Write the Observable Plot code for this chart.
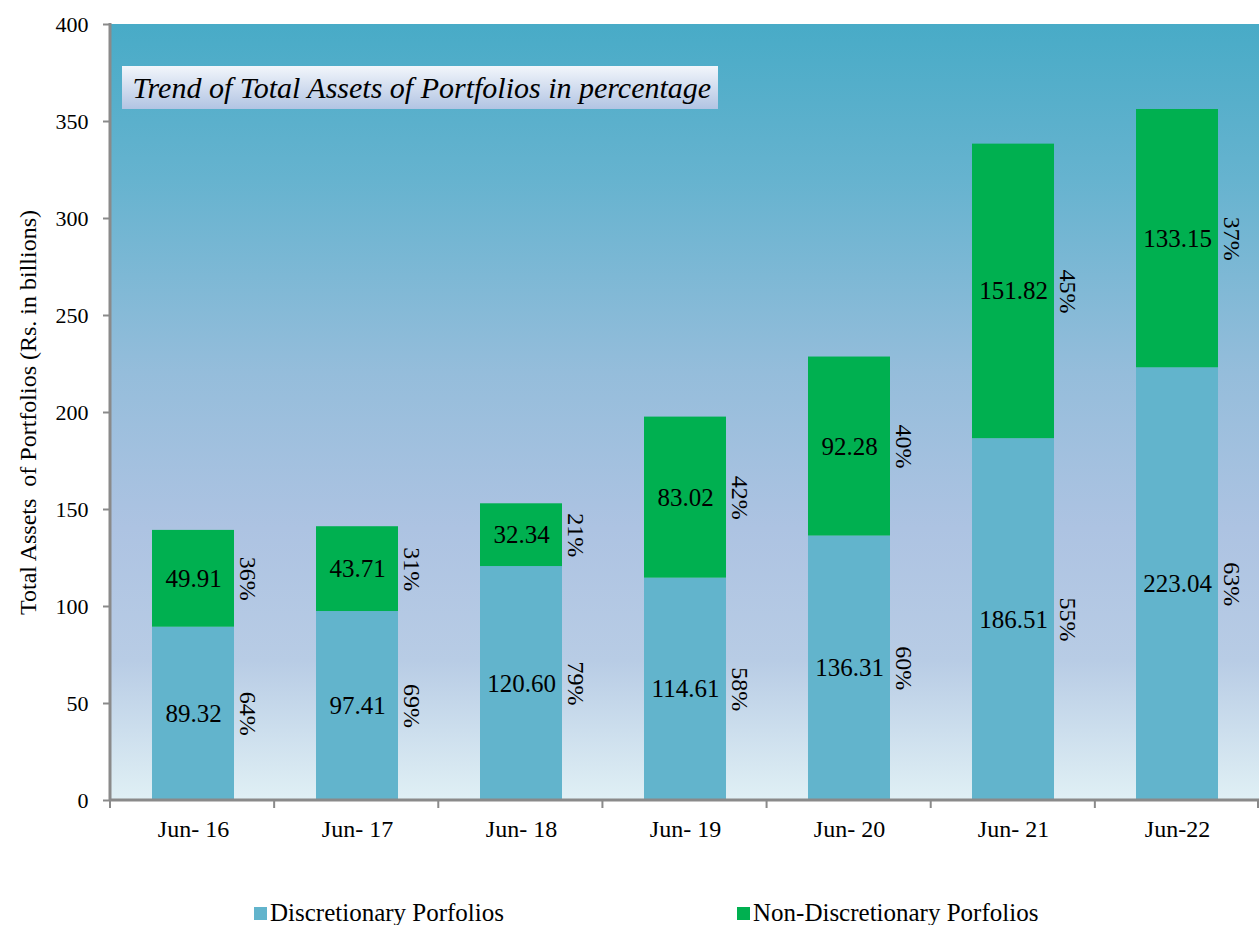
<!DOCTYPE html>
<html><head><meta charset="utf-8">
<script src="https://cdn.jsdelivr.net/npm/d3@7"></script>
<script src="https://cdn.jsdelivr.net/npm/@observablehq/plot@0.6"></script>
<style>
body{margin:0;background:#fff;font-family:'Liberation Serif','Times New Roman',serif;}
#wrap{position:relative;width:1259px;height:925px;overflow:hidden;}
svg text{font-family:'Liberation Serif','Times New Roman',serif;}
.leg{position:absolute;top:899px;font-size:25px;line-height:28px;color:#000;white-space:nowrap;display:flex;align-items:center;font-family:'Liberation Serif','Times New Roman',serif;}
.sw{display:inline-block;width:13px;height:13px;margin-right:3px;}
</style></head><body><div id="wrap"></div>
<script>
const categories = ["Jun- 16","Jun- 17","Jun- 18","Jun- 19","Jun- 20","Jun- 21","Jun-22"];
const discretionary = [89.32, 97.41, 120.60, 114.61, 136.31, 186.51, 223.04];
const nonDiscretionary = [49.91, 43.71, 32.34, 83.02, 92.28, 151.82, 133.15];
const discretionaryPct = ["64%","69%","79%","58%","60%","55%","63%"];
const nonDiscretionaryPct = ["36%","31%","21%","42%","40%","45%","37%"];
const seriesNames = ["Discretionary Porfolios","Non-Discretionary Porfolios"];
const seriesColors = ["#62b4cc","#00b050"];
const yTicks = [0,50,100,150,200,250,300,350,400];
const titleText = "Trend of Total Assets of Portfolios in percentage";
const yLabel = "Total Assets  of Portfolios (Rs. in billions)";

const rows = [];
categories.forEach((c,i)=>{
  rows.push({cat:c, series:seriesNames[0], value:discretionary[i], pct:discretionaryPct[i]});
  rows.push({cat:c, series:seriesNames[1], value:nonDiscretionary[i], pct:nonDiscretionaryPct[i]});
});

const FONT = "'Liberation Serif', 'Times New Roman', serif";
const W = 1259, H = 870;

function background(index, scales, values, dim) {
  const g = d3.create("svg:g");
  const defs = g.append("defs");
  const lg = defs.append("linearGradient").attr("id","bgGrad").attr("x1",0).attr("y1",0).attr("x2",0).attr("y2",1);
  [[0,"#48abc7"],[0.2,"#66b3cf"],[0.45,"#95bddb"],[0.65,"#adc3e2"],[0.82,"#b8cce5"],[1,"#e0f0f5"]]
    .forEach(([o,c])=>lg.append("stop").attr("offset",o).attr("stop-color",c));
  const tg = defs.append("linearGradient").attr("id","titleGrad").attr("x1",0).attr("y1",0).attr("x2",0).attr("y2",1);
  [[0,"#f2f6fb"],[1,"#b2c4e3"]].forEach(([o,c])=>tg.append("stop").attr("offset",o).attr("stop-color",c));
  const x0 = dim.marginLeft, y0 = dim.marginTop;
  const w = dim.width - dim.marginLeft - dim.marginRight, h = dim.height - dim.marginTop - dim.marginBottom;
  g.append("rect").attr("x",x0).attr("y",y0).attr("width",w).attr("height",h).attr("fill","url(#bgGrad)");
  g.append("rect").attr("x",122).attr("y",66).attr("width",596).attr("height",43).attr("fill","url(#titleGrad)");
  return g.node();
}

function axesLines(index, scales, values, dim) {
  const g = d3.create("svg:g").attr("stroke","#8a8a8a");
  const x0 = dim.marginLeft, y0 = dim.marginTop;
  const x1 = dim.width - dim.marginRight, y1 = dim.height - dim.marginBottom;
  g.append("line").attr("x1",x0).attr("x2",x0).attr("y1",y0-1).attr("y2",y1+1).attr("stroke-width",3);
  g.append("line").attr("x1",x0).attr("x2",x1).attr("y1",y1).attr("y2",y1).attr("stroke-width",3);
  const step = (x1 - x0) / categories.length;
  for (let i = 0; i <= categories.length; i++) {
    const xx = Math.min(x0 + i*step, x1-1);
    g.append("line").attr("x1",xx).attr("x2",xx).attr("y1",y1).attr("y2",y1+8).attr("stroke-width",2);
  }
  return g.node();
}

const chart = Plot.plot({
  width: W, height: H,
  marginLeft: 110, marginRight: 0, marginTop: 24, marginBottom: 70,
  style: {fontFamily: FONT, background: "transparent", overflow: "visible"},
  x: {domain: categories, paddingInner: 0.5, paddingOuter: 0.25},
  y: {domain: [0,400]},
  color: {domain: seriesNames, range: seriesColors},
  marks: [
    background,
    Plot.barY(rows, {x:"cat", y:"value", fill:"series"}),
    Plot.text(rows, Plot.stackY({x:"cat", y:"value", text: d=>d.value.toFixed(2), fontSize:25, fill:"black", fontFamily: FONT})),
    Plot.text(rows, Plot.stackY({x:"cat", y:"value", text:"pct", rotate:90, dx:54, fontSize:24, fill:"black", fontFamily: FONT})),
    axesLines,
    Plot.axisY({ticks: yTicks, tickSize: 7, tickPadding: 15, stroke:"#8a8a8a", fill:"black", fontSize: 22, label: null, strokeWidth: 2, fontFamily: FONT}),
    Plot.axisX({tickSize: 0, tickPadding: 19, fontSize: 24, fill:"black", label: null, fontFamily: FONT}),
    Plot.text([yLabel], {frameAnchor:"left", rotate:-90, dx:-82, fontSize:24, fill:"black", textAnchor:"middle", fontFamily: FONT}),
    Plot.text([titleText], {frameAnchor:"top-left", dx:22, dy:52, fontSize:30, fontStyle:"italic", fill:"black", textAnchor:"start", fontFamily: FONT})
  ]
});

const wrap = document.getElementById("wrap");
wrap.appendChild(chart);

const legendPos = [254, 737];
seriesNames.forEach((n,i)=>{
  const d = document.createElement("div");
  d.className = "leg";
  d.style.left = legendPos[i] + "px";
  const s = document.createElement("span");
  s.className = "sw"; s.style.background = seriesColors[i];
  d.appendChild(s);
  d.appendChild(document.createTextNode(n));
  wrap.appendChild(d);
});
</script></body></html>
